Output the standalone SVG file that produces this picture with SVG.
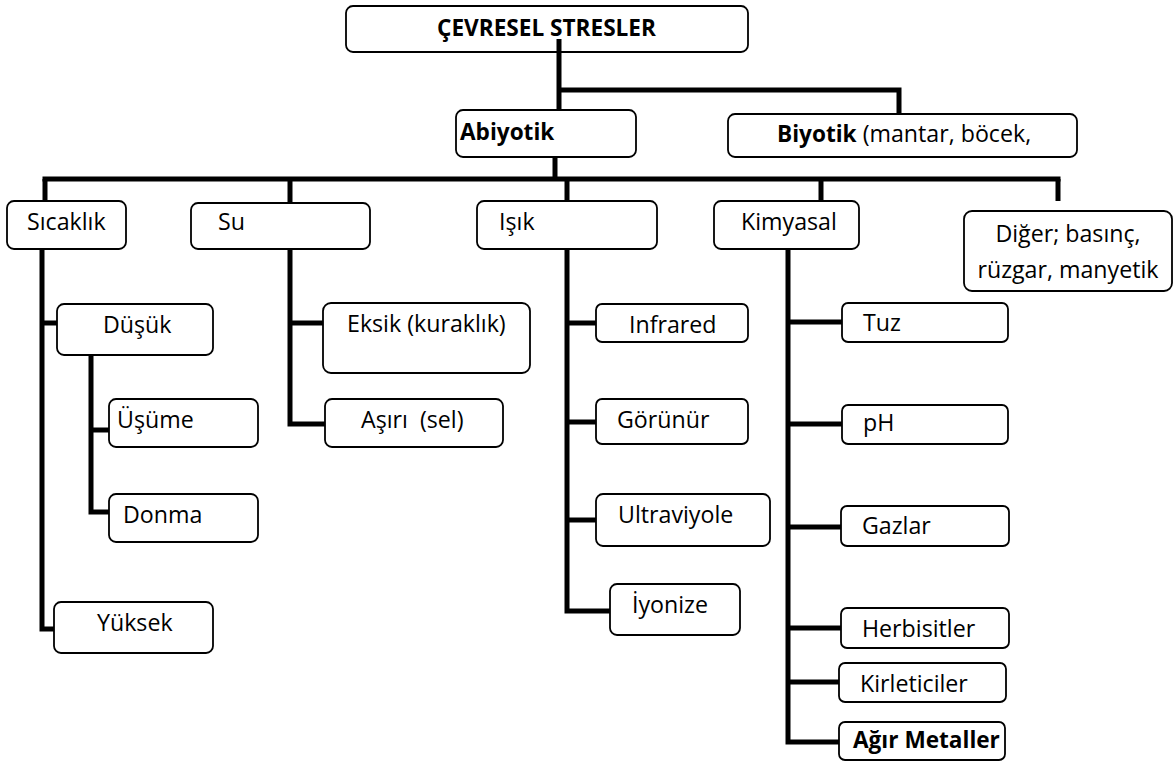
<svg xmlns="http://www.w3.org/2000/svg" width="1175" height="761" viewBox="0 0 1175 761">
<style>
.box{fill:#fff;stroke:#000;stroke-width:1.8}
text{font-family:"Open Sans","Noto Sans","DejaVu Sans",sans-serif;font-size:23.2px;fill:#000}
.b{font-weight:bold;font-size:22.6px}
.c{text-anchor:middle}
.con{fill:none;stroke:#000;stroke-width:5;stroke-linejoin:miter;stroke-linecap:butt}
</style>
<rect width="1175" height="761" fill="#fff"/>
<g id="cevresel"><rect class="box" x="346" y="6" width="402" height="46" rx="7"/><text class="b" x="437" y="36">ÇEVRESEL STRESLER</text></g>
<g id="abiyotik"><rect class="box" x="456" y="110" width="180" height="47" rx="7"/><text class="b" x="460" y="140">Abiyotik</text></g>
<g id="biyotik"><rect class="box" x="728" y="114" width="349" height="43" rx="7"/><text x="777" y="142"><tspan class="b">Biyotik</tspan> (mantar, böcek,</text></g>
<g id="sicaklik"><rect class="box" x="7" y="201" width="119" height="48" rx="7"/><text x="27" y="230">Sıcaklık</text></g>
<g id="su"><rect class="box" x="191" y="203" width="179" height="46" rx="7"/><text x="218" y="230">Su</text></g>
<g id="isik"><rect class="box" x="477" y="201" width="180" height="48" rx="7"/><text x="499" y="230">Işık</text></g>
<g id="kimyasal"><rect class="box" x="714" y="201" width="145" height="48" rx="7"/><text x="741" y="230">Kimyasal</text></g>
<g id="diger"><rect class="box" x="964" y="211" width="208" height="80" rx="8"/><text class="c" x="1068" y="242">Diğer; basınç,</text><text class="c" x="1068" y="278">rüzgar, manyetik</text></g>
<g id="dusuk"><rect class="box" x="57" y="304" width="156" height="51" rx="7"/><text x="103" y="333">Düşük</text></g>
<g id="usume"><rect class="box" x="109" y="399" width="149" height="48" rx="7"/><text x="117" y="428">Üşüme</text></g>
<g id="donma"><rect class="box" x="109" y="494" width="149" height="48" rx="7"/><text x="123" y="523">Donma</text></g>
<g id="yuksek"><rect class="box" x="54" y="602" width="159" height="51" rx="7"/><text x="97" y="631">Yüksek</text></g>
<g id="eksik"><rect class="box" x="323" y="303" width="207" height="70" rx="8"/><text x="347" y="332">Eksik (kuraklık)</text></g>
<g id="asiri"><rect class="box" x="325" y="399" width="178" height="48" rx="7"/><text x="361" y="428" style="white-space:pre">Aşırı  (sel)</text></g>
<g id="infrared"><rect class="box" x="596" y="304" width="152" height="38" rx="6"/><text x="629" y="333">Infrared</text></g>
<g id="gorunur"><rect class="box" x="596" y="399" width="152" height="45" rx="6"/><text x="617" y="428">Görünür</text></g>
<g id="ultraviyole"><rect class="box" x="596" y="494" width="174" height="52" rx="7"/><text x="618" y="523">Ultraviyole</text></g>
<g id="iyonize"><rect class="box" x="610" y="584" width="130" height="51" rx="7"/><text x="632" y="613">İyonize</text></g>
<g id="tuz"><rect class="box" x="842" y="303" width="166" height="39" rx="6"/><text x="863" y="331">Tuz</text></g>
<g id="ph"><rect class="box" x="842" y="405" width="166" height="39" rx="6"/><text x="863" y="431">pH</text></g>
<g id="gazlar"><rect class="box" x="841" y="506" width="168" height="40" rx="6"/><text x="862" y="534">Gazlar</text></g>
<g id="herbisitler"><rect class="box" x="841" y="608" width="168" height="40" rx="6"/><text x="862" y="637">Herbisitler</text></g>
<g id="kirleticiler"><rect class="box" x="839" y="663" width="167" height="39" rx="6"/><text x="860" y="692">Kirleticiler</text></g>
<g id="agir"><rect class="box" x="839" y="722" width="166" height="38" rx="6"/><text class="b" x="853" y="748">Ağır Metaller</text></g>
<g id="connectors" class="con">
<path d="M559 39V110"/>
<path d="M559 90H899V114"/>
<path d="M555 157V179"/>
<path d="M42.5 179H1060.5"/>
<path d="M45 179V201"/>
<path d="M290 179V203"/>
<path d="M567 179V201"/>
<path d="M821 179V201"/>
<path d="M1058 179V201"/>
<path d="M42 249V629H54"/>
<path d="M42 323H57"/>
<path d="M91 355V512H109"/>
<path d="M91 430H109"/>
<path d="M290 249V424H325"/>
<path d="M290 323H323"/>
<path d="M567 249V611H610"/>
<path d="M567 323H596"/>
<path d="M567 422H596"/>
<path d="M567 520H596"/>
<path d="M788 249V742H839"/>
<path d="M788 322H842"/>
<path d="M788 424H842"/>
<path d="M788 527H841"/>
<path d="M788 628H841"/>
<path d="M788 682H839"/>
</g>
</svg>
